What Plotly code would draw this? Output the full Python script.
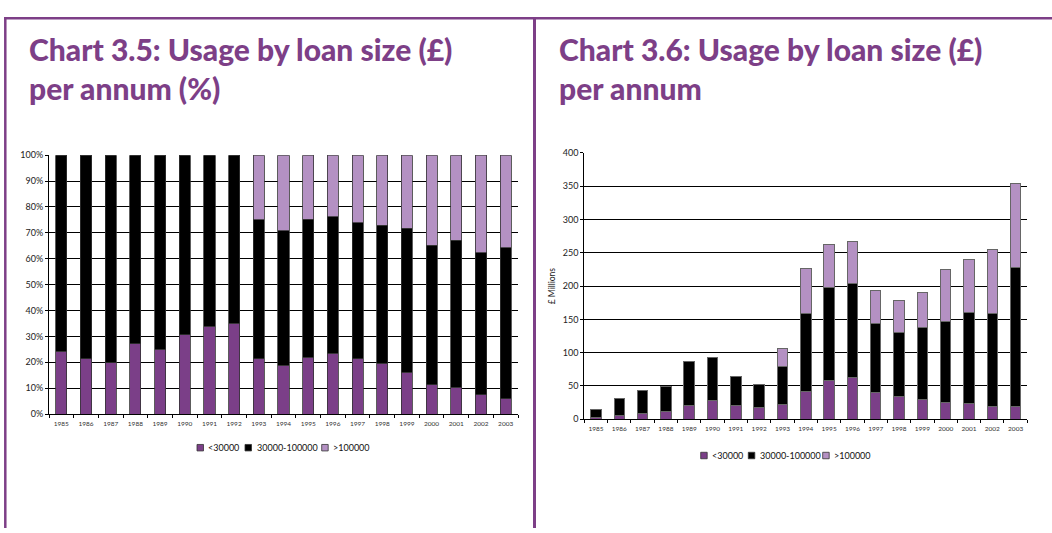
import plotly.graph_objects as go

W, H = 1052, 533

years = [str(y) for y in range(1985, 2004)]
series_names = ["<30000", "30000-100000", ">100000"]
series_colors = ["#7B3F88", "#000000", "#B491C3"]

# Chart 3.5: share of usage by loan size (%)
pct_small = [24.2, 21.4, 19.9, 27.1, 25.0, 30.6, 34.0, 35.0, 21.3, 18.8,
             21.9, 23.5, 21.4, 19.7, 16.1, 11.3, 10.3, 7.4, 5.9]
pct_mid = [75.8, 78.6, 80.1, 72.9, 75.0, 69.4, 66.0, 65.0, 53.7, 52.1,
           53.4, 52.7, 52.5, 53.3, 55.7, 54.0, 56.8, 55.0, 58.3]
pct_large = [0, 0, 0, 0, 0, 0, 0, 0, 25.0, 29.1,
             24.7, 23.8, 26.1, 27.0, 28.2, 34.7, 32.9, 37.6, 35.8]

# Chart 3.6: usage by loan size (£ millions)
mil_small = [3.0, 5.9, 8.3, 12.3, 21.0, 28.0, 21.0, 18.0, 22.5, 42.2,
             57.8, 62.3, 40.7, 34.3, 29.9, 25.5, 24.0, 18.6, 19.6]
mil_mid = [12.2, 25.0, 35.3, 37.2, 65.3, 64.2, 43.2, 34.9, 56.9, 117.1,
           140.2, 141.7, 103.4, 96.6, 108.3, 121.5, 136.3, 139.7, 208.4]
mil_large = [0, 0, 0, 0, 0, 0, 0, 0, 26.5, 66.7,
             64.7, 62.7, 49.0, 48.0, 52.5, 78.5, 79.4, 96.1, 125.4]

FRAME = "#7D3F87"
FONT = "Lato, 'DejaVu Sans', sans-serif"
TICK_FONT = dict(family=FONT, size=9, color="#222")
XTICK_FONT = dict(family=FONT, size=6.5, color="#333")


def px_x(p):
    return p / W


def px_y(p):
    return 1 - p / H


fig = go.Figure()

left_sets = [pct_small, pct_mid, pct_large]
right_sets = [mil_small, mil_mid, mil_large]
for name, color, vals in zip(series_names, series_colors, left_sets):
    fig.add_trace(go.Bar(
        x=years, y=vals, name=name, xaxis="x", yaxis="y",
        marker=dict(color=color, line=dict(color="#333", width=0.8)),
        showlegend=False,
    ))
for name, color, vals in zip(series_names, series_colors, right_sets):
    fig.add_trace(go.Bar(
        x=years, y=vals, name=name, xaxis="x2", yaxis="y2",
        marker=dict(color=color, line=dict(color="#666", width=1)),
        showlegend=False,
    ))

common_x = dict(
    type="category", showgrid=False, showline=True, linecolor="#000", linewidth=1,
    ticks="outside", tickson="boundaries", ticklen=3, tickcolor="#000",
    tickfont=XTICK_FONT, tickangle=0, fixedrange=True, ticklabelstandoff=3,
)
common_y = dict(
    showgrid=True, gridcolor="#000", gridwidth=1, showline=True, linecolor="#000",
    linewidth=1, ticks="outside", ticklen=3, tickcolor="#000", tickfont=TICK_FONT,
    zeroline=False, fixedrange=True,
)

fig.update_layout(
    width=W, height=H,
    margin=dict(l=0, r=0, t=0, b=0),
    paper_bgcolor="white", plot_bgcolor="white",
    barmode="stack",
    xaxis=dict(domain=[px_x(49), px_x(518)], anchor="y", **common_x),
    yaxis=dict(domain=[px_y(416.7), px_y(152.3)], anchor="x", range=[0, 100],
               dtick=10, ticksuffix="%", **common_y),
    xaxis2=dict(domain=[px_x(584.3), px_x(1027.3)], anchor="y2", **common_x),
    yaxis2=dict(domain=[px_y(422), px_y(150)], anchor="x2", range=[0, 400],
                dtick=50, title=dict(text="£ Millions", standoff=5,
                                     font=dict(family=FONT, size=8.5, color="#222")),
                **common_y),
    bargap=0.55,
)

# Legend keys: square swatch followed by the series label
legend_rows = [
    # (y centre, [(swatch left, text left), ...])
    (451, [(197, 205.5), (245, 254.5), (321.7, 330.5)]),
    (459, [(700.7, 709.5), (748.3, 757.5), (822.7, 832)]),
]
for yc, slots in legend_rows:
    for (sx, tx), name, color in zip(slots, series_names, series_colors):
        fig.add_shape(type="rect", xref="paper", yref="paper",
                      x0=px_x(sx), x1=px_x(sx + 6.5), y0=px_y(yc + 3.3), y1=px_y(yc - 3.3),
                      fillcolor=color, line=dict(color="#333", width=0.8))
        fig.add_annotation(text=name, xref="paper", yref="paper", x=px_x(tx), y=px_y(yc),
                           xanchor="left", yanchor="middle", showarrow=False,
                           font=dict(family=FONT, size=9, color="#111"))

# Panel titles (two lines each)
title_font = dict(family="Lato, 'Open Sans', sans-serif", size=30, color=FRAME, weight=900)
titles = [
    (27, "Chart 3.5: Usage by loan size (£)<br>per annum (%)"),
    (557, "Chart 3.6: Usage by loan size (£)<br>per annum"),
]
for x0, text in titles:
    fig.add_annotation(text=text, xref="paper", yref="paper", x=px_x(x0), y=px_y(23),
                       xanchor="left", yanchor="top", align="left", showarrow=False,
                       font=title_font)

# Page frame lines
fig.add_shape(type="line", xref="paper", yref="paper", x0=px_x(4), x1=1,
              y0=px_y(12.5), y1=px_y(12.5), line=dict(color=FRAME, width=2.5))
fig.add_shape(type="line", xref="paper", yref="paper", x0=px_x(5.3), x1=px_x(5.3),
              y0=px_y(11.5), y1=0, line=dict(color=FRAME, width=2.5))
fig.add_shape(type="line", xref="paper", yref="paper", x0=px_x(534.5), x1=px_x(534.5),
              y0=px_y(11.5), y1=0, line=dict(color=FRAME, width=3))

fig.write_html("out.html")
